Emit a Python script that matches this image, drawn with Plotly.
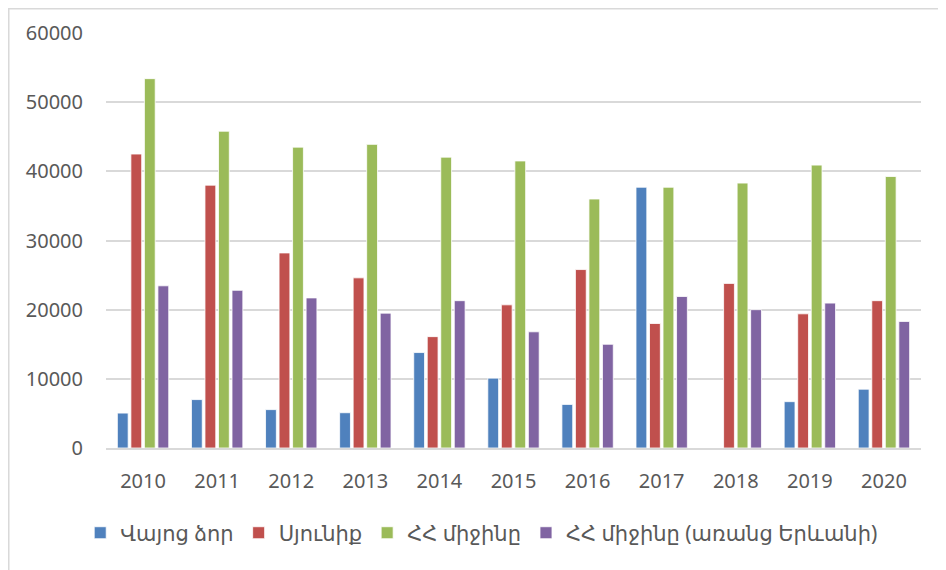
import plotly.graph_objects as go

# Excel-like palette (Office 2007 theme)
BLUE = "#4F81BD"
RED = "#C0504D"
GREEN = "#9BBB59"
PURPLE = "#8064A2"
TEXT = "#595959"
GRID = "#D9D9D9"
FONT = "Noto Sans, DejaVu Sans, sans-serif"

years = ["2010", "2011", "2012", "2013", "2014", "2015",
         "2016", "2017", "2018", "2019", "2020"]

vayots_dzor = [5050, 7000, 5550, 5100, 13800, 10100, 6300, 37700, 0, 6700, 8500]
syunik = [42500, 38000, 28200, 24600, 16100, 20700, 25800, 18000, 23800, 19400, 21300]
ra_avg = [53400, 45800, 43500, 43900, 42050, 41500, 36000, 37700, 38300, 40900, 39250]
ra_avg_no_yerevan = [23450, 22800, 21700, 19500, 21300, 16800, 15000, 21900, 20000, 20950, 18300]

series = [
    ("Վայոց ձոր", vayots_dzor, BLUE),
    ("Սյունիք", syunik, RED),
    ("ՀՀ միջինը", ra_avg, GREEN),
    ("ՀՀ միջինը (առանց Երևանի)", ra_avg_no_yerevan, PURPLE),
]

fig = go.Figure()
for name, vals, color in series:
    fig.add_trace(go.Bar(
        x=years,
        y=vals,
        name=name,
        marker=dict(color=color, line=dict(color="white", width=0.8)),
    ))

# page body has an 8px margin, so the plot box is nudged up/left to compensate
fig.update_layout(
    width=946,
    height=570,
    barmode="group",
    bargap=0.27,
    bargroupgap=0.2,
    paper_bgcolor="white",
    plot_bgcolor="white",
    font=dict(family=FONT, size=20, color=TEXT),
    margin=dict(l=98, r=33, t=25, b=130),
    showlegend=True,
    legend=dict(
        orientation="h",
        x=0.461,
        xanchor="center",
        y=-0.205,
        yanchor="middle",
        font=dict(family=FONT, size=21, color=TEXT),
        itemwidth=30,
        traceorder="normal",
    ),
    # light chart-area border like the Excel export
    shapes=[dict(
        type="rect", xref="paper", yref="paper",
        x0=-0.1193, x1=1.2, y0=-0.5, y1=1.0584,
        line=dict(color=GRID, width=1.5),
        fillcolor="rgba(0,0,0,0)",
        layer="below",
    )],
)

fig.update_xaxes(
    showgrid=False,
    showline=True,
    linecolor=GRID,
    linewidth=2,
    ticks="",
    ticklabelstandoff=14,
    tickfont=dict(size=20, color=TEXT),
)
fig.update_yaxes(
    range=[0, 60000],
    dtick=10000,
    showgrid=True,
    gridcolor=GRID,
    gridwidth=1.5,
    zeroline=False,
    showline=False,
    ticks="",
    ticklabelstandoff=22,
    tickformat="d",
    tickfont=dict(size=20, color=TEXT),
)

fig.write_html("out.html")
